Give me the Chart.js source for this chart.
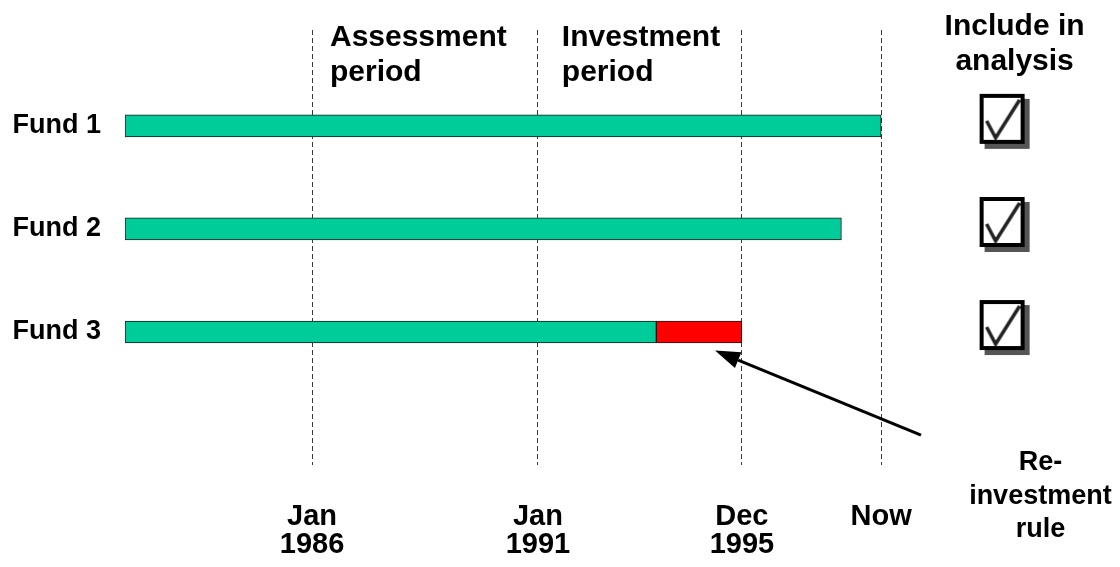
<!DOCTYPE html>
<html lang="en">
<head>
<meta charset="UTF-8">
<title>Fund inclusion timeline</title>
<script src="https://cdn.jsdelivr.net/npm/chart.js"></script>
<style>
  html, body { margin: 0; padding: 0; background: #fff; }
  #wrap { width: 1120px; height: 567px; }
</style>
</head>
<body>
<div id="wrap"><canvas id="chart" width="1120" height="567"></canvas></div>
<script>
// schematic timeline, 0-100 units from the start of the oldest fund (not to scale)
const funds = ['Fund 1', 'Fund 2', 'Fund 3'];
const activeStart = [0, 0, 0];
const activeEnd = [76.0, 72.0, 53.4];
const reinvestStart = [null, null, 53.4];
const reinvestEnd = [null, null, 62.0];
const includeInAnalysis = [true, true, true];

const milestones = [18.8, 41.5, 62.0, 76.0];
const milestoneLabels = [['Jan', '1986'], ['Jan', '1991'], ['Dec', '1995'], 'Now'];

const periodLabels = [['Assessment', 'period'], ['Investment', 'period']];
const periodAnchor = [20.6, 43.9];
const includeLabel = ['Include in', 'analysis'];
const checkColumn = 88.2;
const noteLabel = ['Re-', 'investment', 'rule'];
const noteAnchor = 92.0;
const arrowFrom = { x: 80.0, y: 4.0 };
const arrowTo = { x: 59.3, y: 3.18 };

const FONT = '"Liberation Sans", Arial, Helvetica, sans-serif';
Chart.defaults.font.family = FONT;
Chart.defaults.color = '#000';

function makeCheckbox(checked) {
  const c = document.createElement('canvas');
  c.width = 60; c.height = 76;
  const g = c.getContext('2d');
  const bx = 7, by = 6; // box center sits ~7px above the row centre
  g.fillStyle = '#555';
  g.fillRect(bx + 5, by + 5, 45, 50);
  g.fillStyle = '#fff';
  g.fillRect(bx, by, 45, 50);
  g.lineWidth = 4;
  g.strokeStyle = '#000';
  g.strokeRect(bx + 2, by + 2, 41, 46);
  if (checked) {
    g.strokeStyle = '#222';
    g.lineWidth = 3.5;
    g.beginPath();
    g.moveTo(bx + 7, by + 27);
    g.lineTo(bx + 16, by + 44);
    g.lineTo(bx + 40, by + 6);
    g.stroke();
  }
  return c;
}

const activeData = funds.map((f, i) => ({ y: i + 1, x: [activeStart[i], activeEnd[i]] }));
const reinvestData = [];
funds.forEach((f, i) => {
  if (reinvestStart[i] !== null) reinvestData.push({ y: i + 1, x: [reinvestStart[i], reinvestEnd[i]] });
});

const annotations = {
  id: 'annotations',
  afterDraw(chart) {
    const { ctx, chartArea } = chart;
    const x = chart.scales.x, y = chart.scales.y;
    ctx.save();
    ctx.fillStyle = '#000';
    ctx.textBaseline = 'alphabetic';

    // period headings
    ctx.font = 'bold 30px ' + FONT;
    ctx.textAlign = 'left';
    periodLabels.forEach((lines, i) => {
      const px = x.getPixelForValue(periodAnchor[i]);
      lines.forEach((t, j) => ctx.fillText(t, px, chartArea.top + 16 + j * 35));
    });

    // include heading
    ctx.textAlign = 'center';
    const cx = x.getPixelForValue(checkColumn) + 12;
    includeLabel.forEach((t, j) => ctx.fillText(t, cx, chartArea.top + 5 + j * 35));

    // note
    ctx.font = 'bold 27px ' + FONT;
    const nx = x.getPixelForValue(noteAnchor);
    noteLabel.forEach((t, j) => ctx.fillText(t, nx, chartArea.bottom + 5 + j * 33.5));

    // arrow
    const x0 = x.getPixelForValue(arrowFrom.x), y0 = y.getPixelForValue(arrowFrom.y);
    const x1 = x.getPixelForValue(arrowTo.x), y1 = y.getPixelForValue(arrowTo.y);
    const ang = Math.atan2(y1 - y0, x1 - x0);
    const headLen = 25, headHalf = 8.5;
    const bxp = x1 - headLen * Math.cos(ang), byp = y1 - headLen * Math.sin(ang);
    ctx.strokeStyle = '#000';
    ctx.lineWidth = 3;
    ctx.beginPath();
    ctx.moveTo(x0, y0);
    ctx.lineTo(bxp, byp);
    ctx.stroke();
    ctx.beginPath();
    ctx.moveTo(x1, y1);
    ctx.lineTo(bxp + headHalf * Math.sin(ang), byp - headHalf * Math.cos(ang));
    ctx.lineTo(bxp - headHalf * Math.sin(ang), byp + headHalf * Math.cos(ang));
    ctx.closePath();
    ctx.fill();
    ctx.restore();
  }
};

new Chart(document.getElementById('chart'), {
  type: 'bar',
  data: {
    datasets: [
      {
        label: 'Active',
        indexAxis: 'y',
        data: activeData,
        backgroundColor: '#00CC99',
        borderColor: '#1a1a1a',
        borderWidth: 1,
        borderSkipped: false,
        barThickness: 22,
        grouped: false
      },
      {
        label: 'Re-investment',
        indexAxis: 'y',
        data: reinvestData,
        backgroundColor: '#FF0000',
        borderColor: '#1a1a1a',
        borderWidth: 1,
        borderSkipped: false,
        barThickness: 22,
        grouped: false
      },
      {
        type: 'scatter',
        label: 'Include in analysis',
        indexAxis: 'x',
        data: funds.map((f, i) => ({ x: checkColumn, y: i + 1 })),
        pointStyle: funds.map((f, i) => makeCheckbox(includeInAnalysis[i])),
        pointRadius: 10
      }
    ]
  },
  options: {
    indexAxis: 'y',
    responsive: false,
    animation: false,
    events: [],
    layout: { autoPadding: false, padding: { top: 30, left: 0, right: 0, bottom: 0 } },
    plugins: { legend: { display: false }, tooltip: { enabled: false } },
    scales: {
      x: {
        type: 'linear',
        position: 'bottom',
        min: 0,
        max: 100,
        offset: false,
        afterBuildTicks: s => { s.ticks = milestones.map(v => ({ value: v })); },
        afterFit: s => { s.height = 102; s.paddingLeft = 0; s.paddingRight = 0; },
        ticks: {
          autoSkip: false,
          maxRotation: 0,
          padding: 38,
          font: { size: 29, weight: 'bold', lineHeight: '28px' },
          color: '#000',
          callback: (v, i) => milestoneLabels[i]
        },
        grid: { color: '#3a3a3a', lineWidth: 1, drawTicks: false, offset: false },
        border: { display: false, dash: [5, 3] }
      },
      y: {
        type: 'linear',
        position: 'left',
        reverse: true,
        min: 0.07,
        max: 4.29,
        offset: false,
        afterBuildTicks: s => { s.ticks = funds.map((f, i) => ({ value: i + 1 })); },
        afterFit: s => { s.width = 125; s.paddingTop = 0; s.paddingBottom = 0; },
        ticks: {
          padding: 24,
          font: { size: 27, weight: 'bold' },
          color: '#000',
          callback: v => funds[v - 1]
        },
        grid: { display: false, drawTicks: false },
        border: { display: false }
      }
    }
  },
  plugins: [annotations]
});
</script>
</body>
</html>
